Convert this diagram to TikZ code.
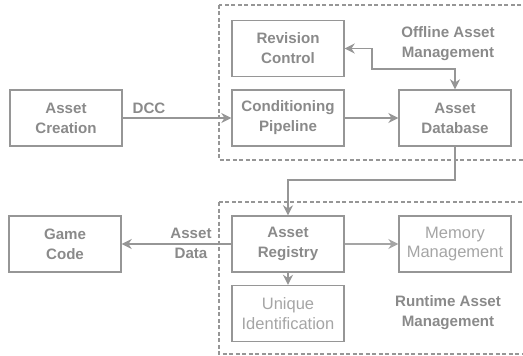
\documentclass[tikz,border=0pt]{standalone}
\usepackage{fontspec}
\setmainfont{Liberation Sans}
\usetikzlibrary{arrows.meta}
\definecolor{linegray}{RGB}{150,150,150}
\definecolor{textgray}{RGB}{138,138,138}
\definecolor{softgray}{RGB}{165,165,165}

\begin{document}
\begin{tikzpicture}[x=0.02cm, y=-0.02cm, >={Stealth[length=2mm,width=2mm]},
  block/.style={draw=linegray, line width=0.8pt, minimum width=2.24cm, minimum height=1.12cm,
    inner sep=0pt, align=center, text=textgray, font=\bfseries\fontsize{8.6}{11.3}\selectfont},
  softblock/.style={block, text=softgray, font=\fontsize{9.4}{11.3}\selectfont},
  tag/.style={align=center, inner sep=0pt, text=textgray, font=\bfseries\fontsize{8.6}{11.3}\selectfont},
  group/.style={draw=linegray, line width=0.8pt, dash pattern=on 0.08cm off 0.05cm},
  link/.style={draw=linegray, line width=0.9pt}]
\useasboundingbox (0,0) rectangle (523,355);
% dashed groups
\draw[group] (219,5) rectangle (540,160);
\draw[group] (219,202) rectangle (540,354);
% blocks
\node (creation) at (66,118) [block] {Asset\\Creation};
\node (revision) at (288,48.5) [block] {Revision\\Control};
\node (pipeline) at (288,118) [block] {Conditioning\\Pipeline};
\node (database) at (455,118) [block] {Asset\\Database};
\node (game) at (65,244) [block] {Game\\Code};
\node (registry) at (288,244) [block] {Asset\\Registry};
\node (memory) at (455,244) [softblock] {Memory\\Management};
\node (unique) at (288,313.5) [softblock] {Unique\\Identification};
% labels
\node (dcc) at (149,108) [tag] {DCC};
\node (offline) at (448,44) [tag] {Offline Asset\\Management};
\node (runtime) at (448,313) [tag] {Runtime Asset\\Management};
\coordinate (bend) at (372,69);
\coordinate (drop) at (288,180);
% connectors
\draw[->, link] (creation) -- (pipeline);
\draw[->, link] (pipeline) -- (database);
\draw[<->, link] (revision.east) -| (bend) -| (database.north);
\draw[->, link] (database.south) |- (drop) -- (registry.north);
\draw[->, link] (registry) -- (game);
\draw[->, draw=softgray, line width=0.7pt] (registry) -- (memory);
\draw[->, link] (registry) -- (unique);
\node (data) at (191,243) [tag] {Asset\\Data};
\end{tikzpicture}
\end{document}
